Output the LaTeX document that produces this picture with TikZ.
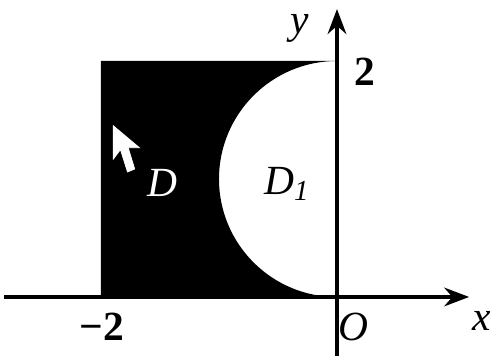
\documentclass[tikz,border=0pt]{standalone}
\usepackage{fontspec}
\setmainfont{Liberation Serif}
\usepackage{tikz}
\usetikzlibrary{arrows.meta,positioning,calc}
\tikzset{
  axisline/.style={-{Stealth[length=6pt,width=4.5pt]},line width=0.85pt},
  regionfill/.style={fill=black},
  axlabel/.style={font=\fontsize{10}{12}\selectfont\itshape,inner sep=1pt},
  numlabel/.style={font=\fontsize{10}{12}\selectfont\bfseries,inner sep=1pt},
  regionlabel/.style={axlabel,text=white},
  cursorshape/.style={fill=white,draw=white,line width=0.2pt}
}
\begin{document}
\begin{tikzpicture}[x=1cm,y=1cm]
  \useasboundingbox (-2.856,-0.50) rectangle (1.356,2.517);
  % shaded region D
  \fill[regionfill] (-2,0) -- (0,0) arc (-90:-270:1) -- (-2,2) -- cycle;
  % axes
  \coordinate (xstart) at (-2.82,0);
  \coordinate (xend) at (1.12,0);
  \coordinate (ystart) at (0,-0.50);
  \coordinate (yend) at (0,2.44);
  \draw[axisline] (xstart) -- (xend);
  \draw[axisline] (ystart) -- (yend);
  % labels
  \node[axlabel] (ylab) at (-0.32,2.28) {y};
  \node[axlabel] (xlab) at (1.23,-0.20) {x};
  \node[axlabel] (olab) at (0.14,-0.25) {O};
  \node[numlabel] (twolab) at (0.24,1.91) {2};
  \node[numlabel] (mtwolab) at (-1.99,-0.25) {\char"2212 2};
  \node[axlabel] (d1lab) at (-0.42,0.96) {D\textsubscript{1}};
  \node[regionlabel] (dlab) at (-1.48,0.97) {D};
  % pointer
  \fill[cursorshape] (-1.895,1.45) -- (-1.895,1.17) -- (-1.835,1.25) -- (-1.775,1.06)
    -- (-1.715,1.085) -- (-1.77,1.265) -- (-1.675,1.265) -- cycle;
\end{tikzpicture}
\end{document}
